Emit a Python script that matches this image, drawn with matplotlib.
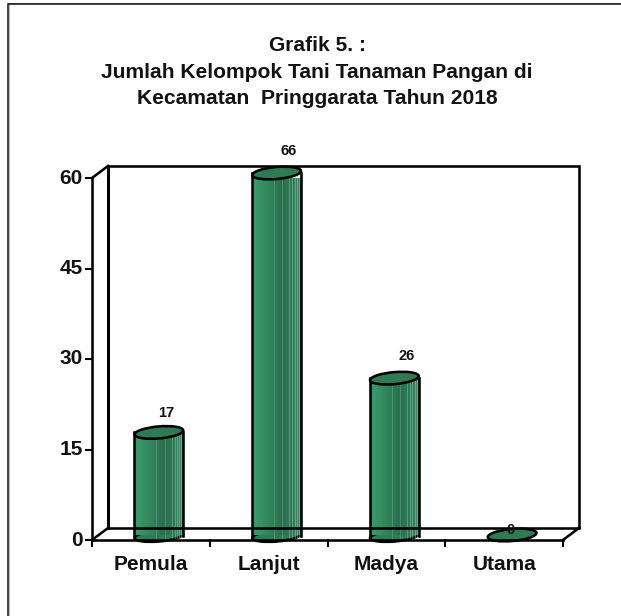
"""Grafik 5 - Jumlah Kelompok Tani Tanaman Pangan, faux 3D cylinder bars."""

import matplotlib
matplotlib.use('Agg')
import matplotlib.pyplot as plt
from matplotlib.colors import LinearSegmentedColormap
from matplotlib.lines import Line2D
from matplotlib.patches import Ellipse
from matplotlib.transforms import Affine2D, IdentityTransform

plt.rcParams['font.family'] = ['Liberation Sans', 'DejaVu Sans']

# ── data ──────────────────────────────────────────────────────────────────
categories = ['Pemula', 'Lanjut', 'Madya', 'Utama']
values = [17, 66, 26, 0]
y_ticks = [0, 15, 30, 45, 60]
title = ('Grafik 5. :\nJumlah Kelompok Tani Tanaman Pangan di\n'
         'Kecamatan  Pringgarata Tahun 2018')

# label nudges, px
label_dx = [7, 12, 12, -2]
label_dy = [19, 22, 22, 5]

W, H = 621, 616
DEPTH_X, DEPTH_Y = 16, 12      # px, floor depth
BAR_DX, BAR_DY = 8, 5          # px, bars stand mid-floor
BAR_W = 0.415                  # in category units
Y_MAX = 60
LW = 1.85

shades = LinearSegmentedColormap.from_list(
    'cyl', ['#3a9a6b', '#359063', '#2f8058', '#2a6f4d', '#2e7a55', '#3a8a63'])

fig = plt.figure(figsize=(W / 100, H / 100), dpi=100)
ax = fig.add_axes([92 / W, 1 - 540 / H, 471 / W, 362 / H])
ax.set_xlim(0, len(categories))
ax.set_ylim(0, Y_MAX)
ax.patch.set_visible(False)
for s in ax.spines.values():
    s.set_visible(False)
ax.set_xticks([])
ax.set_yticks([])

px = IdentityTransform()


def to_px(x, y):
    """Data position to image pixels, y up."""
    return ax.transData.transform((x, y))


def pline(xs, ys, lw=LW, color='black', z=3):
    # coordinates are pixels measured from the front axis origin
    x0, y0 = to_px(0, 0)
    fig.add_artist(Line2D([x0 + v for v in xs], [y0 + v for v in ys], color=color,
                          lw=lw, transform=px, solid_capstyle='projecting',
                          solid_joinstyle='miter', zorder=z))


# page frame: only top and left edges show
fig.add_artist(Line2D([8.8, 8.8], [0, H - 4], color='#b8b8b8', lw=0.8, transform=px))
fig.add_artist(Line2D([0 + 8, W], [H - 2.6, H - 2.6], color='#9a9a9a', lw=0.8, transform=px))
fig.add_artist(Line2D([7.5, 7.5, W], [0, H - 3.8, H - 3.8], color='#111111', lw=1.1,
                      transform=px, solid_joinstyle='miter'))

# back wall and floor
x0, y0 = to_px(0, 0)
x1, y1 = to_px(len(categories), Y_MAX)
w, h = x1 - x0, y1 - y0
pline([DEPTH_X, DEPTH_X, w + DEPTH_X, w + DEPTH_X, DEPTH_X, DEPTH_X],
      [DEPTH_Y, h + DEPTH_Y, h + DEPTH_Y, DEPTH_Y, DEPTH_Y, h + DEPTH_Y], z=1)
pline([0, DEPTH_X], [h, h + DEPTH_Y], z=1)
pline([0, DEPTH_X], [0, DEPTH_Y], z=1)
pline([w, w + DEPTH_X], [0, DEPTH_Y], z=1)
pline([0, 0], [0, h], z=1)
pline([0, w], [0, 0], z=1)

# ticks
for t in y_ticks:
    _, yp = to_px(0, t)
    pline([-6, 0], [yp - y0, yp - y0], lw=1.5, z=1)
    fig.text((x0 - 9) / W, yp / H, str(t), ha='right', va='center',
             fontsize=15, fontweight='bold', color='#111111')
for i in range(len(categories) + 1):
    xp, _ = to_px(i, 0)
    pline([xp - x0, xp - x0], [-6, 0], lw=1.5, z=1)

# bars
STRIPS = 40
for i, (name, v) in enumerate(zip(categories, values)):
    shown = min(v, Y_MAX)
    cx, base = to_px(i + 0.5, 0)
    cx += BAR_DX
    base += BAR_DY
    _, top = to_px(i + 0.5, shown)
    top += BAR_DY
    half = BAR_W / 2 * w / len(categories)

    if shown > 0:
        left = i + 0.5 - BAR_W / 2
        for k in range(STRIPS):
            f = (k + 0.5) / STRIPS
            ax.bar(left + BAR_W * k / STRIPS, shown, width=BAR_W / STRIPS * 1.05,
                   align='edge', color=shades(f), lw=0, zorder=4,
                   transform=ax.transData + Affine2D().translate(BAR_DX, BAR_DY))
        # lighter facets of the cylinder
        for f, a in [(0.45, 0.3), (0.62, 0.3), (0.76, 0.4), (0.82, 0.45),
                     (0.87, 0.5), (0.92, 0.5), (0.96, 0.5)]:
            ax.add_artist(Line2D([cx - half + 2 * half * f] * 2, [base - 3, top],
                                 color='#a8d8bd', lw=0.6, alpha=a, transform=px,
                                 zorder=4.5, clip_on=False))
        # back floor line shows faintly through the bar
        ax.add_artist(Line2D([cx - half, cx + half], [y0 + DEPTH_Y] * 2, color='black',
                             lw=1.2, alpha=0.18, transform=px, zorder=4.5, clip_on=False))
        bottom = Ellipse((0, 0), 2 * half, 11, fc=shades(0.45), ec='black', lw=LW,
                         transform=Affine2D().rotate_deg(5).translate(cx, base - 1) + px,
                         zorder=3.9, clip_on=False)
        ax.add_artist(bottom)
        for side in (-half, half):
            ax.add_artist(Line2D([cx + side] * 2, [base - 1, top], color='black', lw=LW,
                                 transform=px, zorder=5, clip_on=False))
    cap = Ellipse((0, 0), 2 * half, 12, fc='#2e7a55', ec='black', lw=LW,
                  transform=Affine2D().rotate_deg(5).translate(cx, top) + px,
                  zorder=6, clip_on=False)
    ax.add_artist(cap)

    # value label
    fig.text((cx + label_dx[i]) / W, (top + label_dy[i]) / H, str(v), ha='center',
             va='center', fontsize=10.5, fontweight='bold', color='#111111', zorder=7)

    # category label
    lx, _ = to_px(i + 0.5, 0)
    fig.text(lx / W, 1 - 565 / H, name, ha='center', va='center',
             fontsize=15, fontweight='bold', color='#111111')

fig.text(317 / W, 1 - 72 / H, title, ha='center', va='center', fontsize=15.1,
         fontweight='bold', color='#111111', linespacing=1.5)

fig.savefig('out.png', dpi=100)
